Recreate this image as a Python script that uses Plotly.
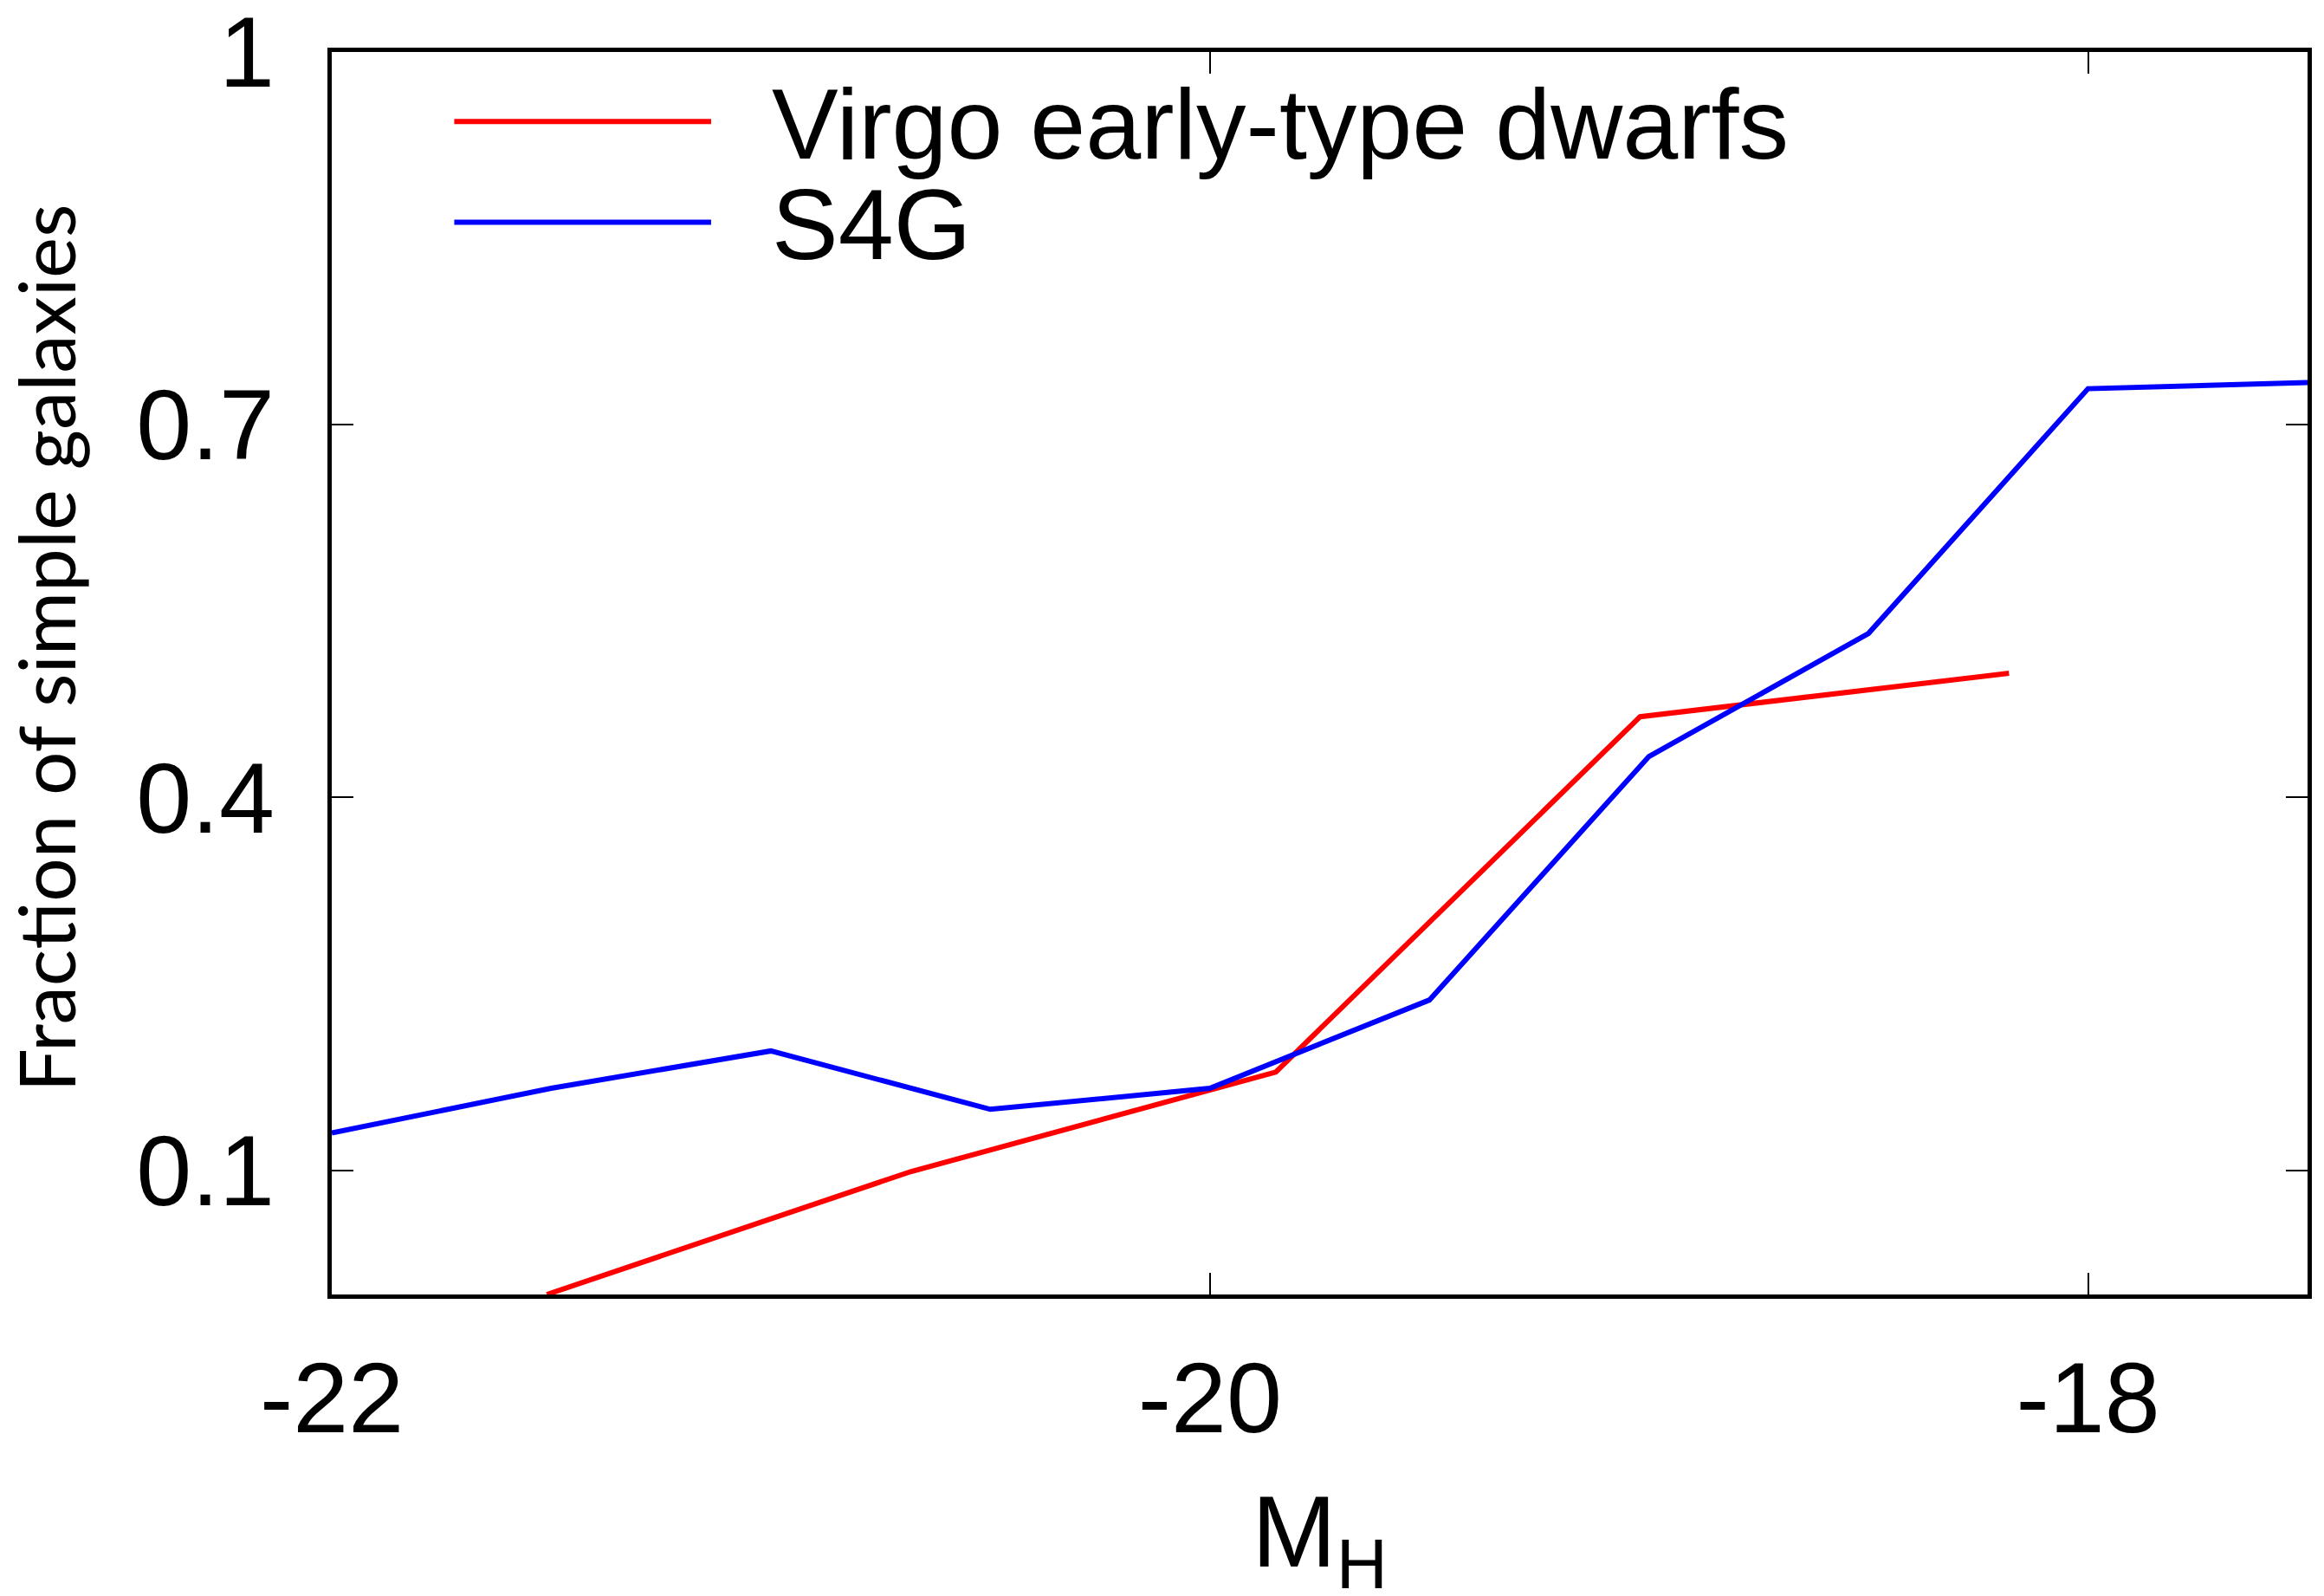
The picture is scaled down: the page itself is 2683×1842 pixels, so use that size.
import plotly.graph_objects as go

# Virgo early-type dwarfs
virgo_mh = [-21.51, -20.68, -19.85, -19.02, -18.18]
virgo_frac = [0.0, 0.099, 0.179, 0.465, 0.500]

# S4G
s4g_mh = [-22.0, -21.5, -21.0, -20.5, -20.0, -19.5, -19.0, -18.5, -18.0, -17.5]
s4g_frac = [0.130, 0.166, 0.196, 0.149, 0.166, 0.237, 0.433, 0.532, 0.729, 0.734]

x_ticks = [-22, -20, -18]
y_ticks = [0.1, 0.4, 0.7, 1]
y_ticklabels = ['0.1', '0.4', '0.7', '1']

series = [
	("Virgo early-type dwarfs", virgo_mh, virgo_frac, '#ff0000'),
	("S4G", s4g_mh, s4g_frac, '#0000ff'),
]

fig = go.Figure()
for name, xs, ys, col in series:
	fig.add_trace(go.Scatter(x=xs, y=ys, mode='lines', name=name,
		line=dict(color=col, width=6)))

# legend drawn by hand so the sample lines are long, as in the original
leg_y = [0.944, 0.863]
for (name, xs, ys, col), ly in zip(series, leg_y):
	fig.add_shape(type='line', xref='paper', yref='paper',
		x0=0.062, x1=0.192, y0=ly, y1=ly, line=dict(color=col, width=6))
	fig.add_annotation(xref='paper', yref='paper', x=0.222, y=ly - 0.002,
		text=name, showarrow=False, xanchor='left', yanchor='middle',
		font=dict(family='Liberation Sans, Arial, sans-serif', size=115, color='black'))

# y title as annotation (sits a little above the plot centre in the original)
fig.add_annotation(xref='paper', yref='paper', x=-0.145, y=0.52,
	text='Fraction of simple galaxies', textangle=-90, showarrow=False,
	xanchor='center', yanchor='middle',
	font=dict(family='Lato, sans-serif', size=89, color='black'))

tick_font = dict(family='Liberation Sans, Arial, sans-serif', size=115, color='black')

fig.update_layout(
	width=2683, height=1842,
	margin=dict(l=375, r=27, t=52, b=356),
	showlegend=False,
	paper_bgcolor='white',
	plot_bgcolor='white',
	xaxis=dict(
		range=[-22, -17.5],
		tickvals=x_ticks,
		ticktext=[str(v) for v in x_ticks],
		ticks='inside', ticklen=25, tickwidth=2, tickcolor='black',
		showline=True, linecolor='black', linewidth=5, mirror='ticks',
		showgrid=False, zeroline=False,
		automargin=False,
		tickfont=tick_font,
		ticklabelstandoff=16,
		ticklabeloverflow='allow',
		title=dict(text='M<sub>H</sub>', font=dict(family='Liberation Sans, Arial, sans-serif', size=117, color='black'), standoff=76),
	),
	yaxis=dict(
		range=[0, 1],
		tickvals=y_ticks,
		ticktext=y_ticklabels,
		ticks='inside', ticklen=25, tickwidth=2, tickcolor='black',
		showline=True, linecolor='black', linewidth=5, mirror='ticks',
		showgrid=False, zeroline=False,
		automargin=False,
		tickfont=tick_font,
		ticklabelstandoff=38,
		ticklabeloverflow='allow',
	),
)

fig.write_html("out.html")
